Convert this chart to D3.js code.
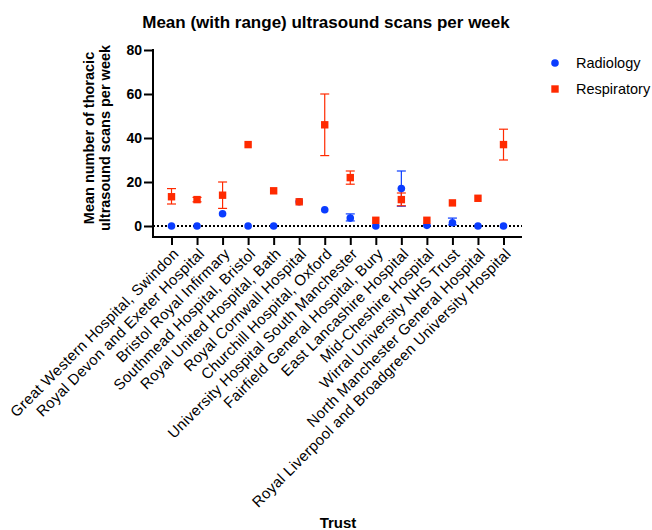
<!DOCTYPE html>
<html>
<head>
<meta charset="utf-8">
<script src="https://cdn.jsdelivr.net/npm/d3@7"></script>
<style>
  body { margin: 0; background: #fff; font-family: "Liberation Sans", Arial, sans-serif; }
</style>
</head>
<body>
<div id="chart"></div>
<script>
// Données
const trusts = [
    "Great Western Hospital, Swindon",
    "Royal Devon and Exeter Hospital",
    "Bristol Royal Infirmary",
    "Southmead Hospital, Bristol",
    "Royal United Hospital, Bath",
    "Royal Cornwall Hospital",
    "Churchill Hospital, Oxford",
    "University Hospital South Manchester",
    "Fairfield General Hospital, Bury",
    "East Lancashire Hospital",
    "Mid-Cheshire Hospital",
    "Wirral University NHS Trust",
    "North Manchester General Hospital",
    "Royal Liverpool and Broadgreen University Hospital"
];
const radiologyMean = [0, 0, 5.6, 0, 0, 11, 7.4, 3.6, 0, 17, 0.3, 1.5, 0, 0];
const radiologyMin  = [0, 0, 5.6, 0, 0, 11, 7.4, 2.3, 0, 9, 0.3, 0.5, 0, 0];
const radiologyMax  = [0, 0, 5.6, 0, 0, 11, 7.4, 5.5, 0, 25, 0.3, 3.6, 0, 0];
const respiratoryMean = [13.3, 12, 14, 37, 16, 11, 46, 22, 2.6, 12, 2.6, 10.5, 12.6, 37];
const respiratoryMin  = [10, 11, 8, 37, 16, 11, 32, 19, 2.6, 9.2, 2.6, 10.5, 12.6, 30];
const respiratoryMax  = [17, 13, 20, 37, 16, 11, 60, 25, 2.6, 15, 2.6, 10.5, 12.6, 44];
const yTicks = [0, 20, 40, 60, 80];
const seriesNames = ["Radiology", "Respiratory"];

const blue = "#0a3cff";
const red = "#ff2a00";

const margin = { top: 50, right: 130, bottom: 293, left: 153 };
const width = 652 - margin.left - margin.right;
const height = 226 - margin.top;
const axisY = height + 11; // axe X décalé sous le zéro

const root = d3.select("#chart")
    .append("svg")
    .attr("width", 652)
    .attr("height", 530);

const svg = root.append("g")
    .attr("transform", `translate(${margin.left},${margin.top})`);

// Échelles
const x = d3.scalePoint()
    .domain(trusts)
    .range([18.5, width - 18.5]);

const y = d3.scaleLinear()
    .domain([0, 80])
    .range([height, 0]);

// Titre
root.append("text")
    .attr("x", 326)
    .attr("y", 28)
    .attr("text-anchor", "middle")
    .attr("font-size", 17)
    .attr("font-weight", "bold")
    .text("Mean (with range) ultrasound scans per week");

// Axe Y
const yAxis = svg.append("g")
    .call(d3.axisLeft(y).tickValues(yTicks).tickSize(9).tickSizeOuter(0).tickPadding(2));
yAxis.select(".domain").remove();
yAxis.selectAll(".tick line").attr("stroke", "#000").attr("stroke-width", 2);
yAxis.selectAll("text")
    .attr("font-size", 14)
    .attr("font-weight", "bold")
    .attr("font-family", "Liberation Sans, Arial, sans-serif")
    .attr("fill", "#000");
svg.append("line")
    .attr("x1", 0).attr("x2", 0)
    .attr("y1", y(80) - 1).attr("y2", axisY + 1)
    .attr("stroke", "#000").attr("stroke-width", 2);

// Axe X
const xAxis = svg.append("g")
    .attr("transform", `translate(0,${axisY})`)
    .call(d3.axisBottom(x).tickSize(8).tickSizeOuter(0));
xAxis.select(".domain").remove();
xAxis.selectAll(".tick line").attr("stroke", "#000").attr("stroke-width", 2);
xAxis.selectAll("text")
    .attr("x", 0)
    .attr("y", 0)
    .attr("dy", "0.35em")
    .attr("transform", "translate(4,14) rotate(-45)")
    .style("text-anchor", "end")
    .style("letter-spacing", "0.3px")
    .attr("font-size", 15)
    .attr("font-family", "Liberation Sans, Arial, sans-serif")
    .attr("fill", "#000");
svg.append("line")
    .attr("x1", -1).attr("x2", width)
    .attr("y1", axisY).attr("y2", axisY)
    .attr("stroke", "#000").attr("stroke-width", 2);

// Ligne pointillée à zéro
svg.append("line")
    .attr("x1", 0).attr("x2", width)
    .attr("y1", y(0)).attr("y2", y(0))
    .attr("stroke", "#000")
    .attr("stroke-width", 2)
    .attr("stroke-dasharray", "2,2");

// Barres d'erreur
function errorBars(mean, lo, hi, color) {
    const g = svg.append("g").attr("stroke", color).attr("stroke-width", 1.2);
    trusts.forEach((t, i) => {
        if (hi[i] - lo[i] < 0.5) return;
        const cx = x(t);
        g.append("line").attr("x1", cx).attr("x2", cx).attr("y1", y(lo[i])).attr("y2", y(hi[i]));
        g.append("line").attr("x1", cx - 4.5).attr("x2", cx + 4.5).attr("y1", y(lo[i])).attr("y2", y(lo[i]));
        g.append("line").attr("x1", cx - 4.5).attr("x2", cx + 4.5).attr("y1", y(hi[i])).attr("y2", y(hi[i]));
    });
}

errorBars(radiologyMean, radiologyMin, radiologyMax, blue);

svg.append("g")
    .selectAll("circle")
    .data(radiologyMean)
    .join("circle")
    .attr("cx", (d, i) => x(trusts[i]))
    .attr("cy", d => y(d))
    .attr("r", 3.8)
    .attr("fill", blue);

errorBars(respiratoryMean, respiratoryMin, respiratoryMax, red);

svg.append("g")
    .selectAll("rect")
    .data(respiratoryMean)
    .join("rect")
    .attr("x", (d, i) => x(trusts[i]) - 3.7)
    .attr("y", d => y(d) - 3.7)
    .attr("width", 7.4)
    .attr("height", 7.4)
    .attr("fill", red);

// Titres des axes
svg.append("text")
    .attr("transform", "rotate(-90)")
    .attr("x", -height / 2)
    .attr("y", -59)
    .attr("text-anchor", "middle")
    .attr("font-size", 14.5)
    .attr("font-weight", "bold")
    .text("Mean number of thoracic");
svg.append("text")
    .attr("transform", "rotate(-90)")
    .attr("x", -height / 2)
    .attr("y", -43)
    .attr("text-anchor", "middle")
    .attr("font-size", 14.5)
    .attr("font-weight", "bold")
    .text("ultrasound scans per week");

root.append("text")
    .attr("x", 338)
    .attr("y", 528)
    .attr("text-anchor", "middle")
    .attr("font-size", 15)
    .attr("font-weight", "bold")
    .text("Trust");

// Légende
const legend = root.append("g").attr("transform", "translate(555,63)");
legend.append("circle").attr("cx", 0).attr("cy", 0).attr("r", 3.8).attr("fill", blue);
legend.append("rect").attr("x", -3.7).attr("y", 22.3).attr("width", 7.4).attr("height", 7.4).attr("fill", red);
legend.selectAll("text")
    .data(seriesNames)
    .join("text")
    .attr("x", 21)
    .attr("y", (d, i) => i * 26)
    .attr("dy", "0.35em")
    .attr("font-size", 14.5)
    .text(d => d);
</script>
</body>
</html>
